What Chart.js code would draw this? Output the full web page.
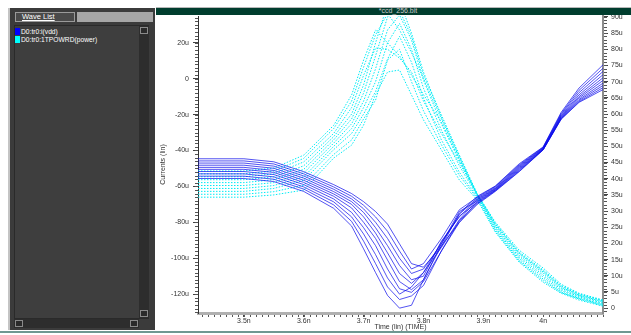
<!DOCTYPE html>
<html>
<head>
<meta charset="utf-8">
<script src="https://cdn.jsdelivr.net/npm/chart.js@4.4.1/dist/chart.umd.min.js"></script>
<style>
  body { margin: 0; width: 631px; height: 335px; overflow: hidden; background: #fff; position: relative; font-family: "Liberation Sans", Arial, sans-serif; }
  .abs { position: absolute; }
  #panel { left: 8px; top: 8px; width: 147px; height: 322px; background: #3b3b3b; border-left: 2px solid #c4c4c4; box-sizing: border-box; }
  #tab { left: 15px; top: 12px; width: 60px; height: 10px; background: #4a4a4a; border: 1px solid #9a9a9a; box-sizing: border-box; color: #fff; font-size: 7.5px; line-height: 8px; padding-left: 6px; text-decoration: underline; }
  #tabfill { left: 77px; top: 12px; width: 76px; height: 10px; background: #a6a6a6; }
  #list { left: 14px; top: 25px; width: 135px; height: 294px; background: #3e3e3e; border: 1px solid #2a2a2a; box-sizing: border-box; }
  .item { left: 15px; color: #fff; font-size: 6.7px; line-height: 8px; white-space: nowrap; }
  .item i { display: inline-block; width: 5px; height: 7px; margin-right: 1px; vertical-align: -1px; }
  #vscroll { left: 139px; top: 26px; width: 10px; height: 292px; background: #2d2d2d; }
  #hscroll { left: 14px; top: 319px; width: 125px; height: 9px; background: #2d2d2d; }
  .btn { width: 8px; height: 7px; background: #2a2a2a; border: 1px solid #8a8a8a; box-sizing: border-box; }
  #titlebar { left: 156px; top: 7px; width: 475px; height: 8px; background: #003d2e; border-top: 1px solid #b8b8b8; box-sizing: border-box; }
  #titlebar span { position: absolute; left: 242px; top: -1px; transform: translateX(-50%); color: #c8c8c8; font-size: 7px; white-space: nowrap; }
  #bottomline { left: 0; top: 331px; width: 631px; height: 2px; background: #6f9892; }
  #plot { left: 156px; top: 15px; width: 475px; height: 317px; }
</style>
</head>
<body>
<div id="panel" class="abs"></div>
<div id="tab" class="abs">Wave List</div>
<div id="tabfill" class="abs"></div>
<div id="list" class="abs"></div>
<div class="abs item" style="top:28px"><i style="background:#0000ff"></i>D0:tr0:i(vdd)</div>
<div class="abs item" style="top:36px"><i style="background:#00ffff"></i>D0:tr0:1TPOWRD(power)</div>
<div id="vscroll" class="abs"></div>
<div class="abs btn" style="left:140px;top:27px"></div>
<div class="abs btn" style="left:140px;top:310px"></div>
<div id="hscroll" class="abs"></div>
<div class="abs btn" style="left:15px;top:320px"></div>
<div class="abs btn" style="left:130px;top:320px"></div>
<div id="titlebar" class="abs"><span>*ccd_256.bit</span></div>
<div id="bottomline" class="abs"></div>
<div id="plot" class="abs"><canvas id="wave-chart"></canvas></div>

<script>
// time points in ns
const timeNs = [3.4233, 3.5, 3.55, 3.6, 3.65, 3.68, 3.7, 3.72, 3.74, 3.76, 3.78, 3.8, 3.83, 3.86, 3.89, 3.92, 3.96, 4.0, 4.03, 4.06, 4.1];

// D0:tr0:i(vdd), current in uA, one row per run
const vddCurrent = [
  [-44.6, -44.6, -46.3, -51.8, -59.0, -64.0, -68.5, -74.0, -81.0, -92.0, -103.0, -105.0, -93.5, -75.0, -65.5, -59.8, -47.4, -38.0, -18.8, -5.2, 7.7],
  [-45.8, -45.8, -47.5, -53.0, -60.3, -65.5, -70.5, -77.0, -85.0, -96.0, -106.0, -103.0, -89.0, -73.0, -66.0, -60.0, -48.0, -38.2, -19.5, -6.5, 5.8],
  [-47.0, -47.0, -48.7, -54.2, -61.6, -67.0, -72.5, -80.0, -89.0, -100.0, -108.5, -106.0, -92.0, -75.5, -66.5, -60.5, -48.5, -38.5, -20.0, -7.8, 4.0],
  [-48.2, -48.2, -49.9, -55.4, -62.9, -68.5, -74.5, -83.0, -93.0, -104.0, -112.0, -110.0, -90.5, -77.0, -67.0, -61.0, -49.0, -38.7, -20.6, -9.0, 2.2],
  [-49.4, -49.4, -51.1, -56.6, -64.2, -70.0, -77.0, -86.0, -97.0, -108.5, -114.0, -108.0, -94.0, -78.5, -67.5, -61.3, -49.5, -39.0, -21.0, -10.0, 0.5],
  [-50.5, -50.5, -52.2, -57.8, -65.5, -72.0, -80.0, -89.0, -101.0, -113.0, -117.5, -112.0, -92.0, -74.0, -68.0, -61.6, -50.0, -39.2, -21.5, -10.8, -1.0],
  [-51.7, -51.7, -53.4, -59.0, -67.0, -74.5, -83.0, -93.0, -106.0, -117.0, -119.0, -113.0, -96.0, -80.0, -68.5, -62.0, -50.5, -39.4, -21.8, -11.6, -2.5],
  [-53.0, -53.0, -54.7, -60.3, -68.6, -77.0, -86.5, -98.0, -111.0, -120.0, -116.0, -108.0, -91.0, -76.5, -69.0, -62.2, -51.0, -39.5, -22.2, -12.2, -3.8],
  [-54.3, -54.3, -56.0, -61.5, -70.3, -79.5, -90.5, -103.0, -116.0, -123.0, -121.0, -115.2, -95.9, -79.0, -69.5, -62.5, -51.5, -39.6, -22.5, -12.8, -5.0],
  [-55.6, -55.6, -57.3, -62.8, -72.2, -82.1, -94.8, -108.0, -120.7, -127.8, -126.2, -112.0, -93.0, -80.0, -70.0, -62.8, -51.8, -39.7, -22.6, -13.2, -6.1],
];

// D0:tr0:1TPOWRD(power), right axis, one row per run
const powerRuns = [
  [42.4, 42.4, 43.3, 47.3, 56.5, 65.9, 76.7, 86.0, 82.0, 78.0, 72.0, 66.0, 57.5, 46.0, 35.0, 26.0, 17.0, 11.5, 6.8, 4.2, 2.2],
  [41.5, 41.5, 42.4, 46.3, 55.5, 64.0, 74.5, 84.5, 91.0, 86.0, 79.0, 71.0, 58.5, 46.5, 35.1, 26.2, 17.3, 11.8, 7.0, 4.4, 2.4],
  [40.6, 40.6, 41.5, 45.2, 54.0, 62.0, 72.0, 80.4, 80.0, 77.3, 73.0, 64.0, 54.0, 45.0, 35.2, 25.8, 16.8, 11.2, 6.5, 4.0, 2.0],
  [39.7, 39.7, 40.6, 44.0, 53.0, 60.0, 69.0, 82.0, 94.0, 92.0, 84.0, 72.0, 59.7, 47.3, 35.3, 26.6, 17.9, 12.4, 7.4, 4.6, 2.5],
  [38.8, 38.8, 39.7, 42.9, 52.0, 58.5, 66.5, 78.0, 90.0, 95.0, 85.0, 73.0, 59.0, 47.0, 35.0, 25.4, 16.3, 10.8, 6.2, 3.8, 1.8],
  [37.9, 37.9, 38.8, 41.8, 51.0, 57.0, 64.0, 74.0, 86.0, 90.6, 82.9, 70.5, 57.0, 45.5, 34.8, 25.0, 15.8, 10.2, 5.8, 3.5, 1.5],
  [37.0, 37.0, 37.9, 40.6, 50.0, 55.5, 62.0, 70.0, 82.0, 88.0, 80.0, 68.0, 55.0, 44.0, 34.6, 24.6, 15.3, 9.6, 5.4, 3.2, 1.2],
  [36.1, 36.1, 37.0, 39.5, 49.0, 54.0, 60.0, 67.0, 77.0, 84.0, 76.0, 65.0, 52.0, 42.0, 34.2, 24.2, 14.8, 9.0, 5.0, 3.0, 1.0],
  [35.2, 35.2, 36.0, 38.0, 47.5, 52.0, 58.5, 64.3, 76.7, 80.0, 70.0, 61.0, 50.5, 41.0, 33.8, 23.8, 14.5, 8.5, 4.8, 2.8, 0.8],
  [34.3, 34.3, 35.0, 36.5, 46.4, 50.4, 56.6, 66.0, 73.0, 73.6, 65.9, 58.2, 48.9, 39.6, 33.4, 23.5, 14.2, 8.0, 4.6, 2.5, 0.6],
];

// axis ticks
const xTickValues = [3.5, 3.6, 3.7, 3.8, 3.9, 4.0];
const xTickLabels = ["3.5n", "3.6n", "3.7n", "3.8n", "3.9n", "4n"];
const yTickValues = [20, 0, -20, -40, -60, -80, -100, -120];
const yTickLabels = ["20u", "0", "-20u", "-40u", "-60u", "-80u", "-100u", "-120u"];
const y2TickValues = [90, 85, 80, 75, 70, 65, 60, 55, 50, 45, 40, 35, 30, 25, 20, 15, 10, 5, 0];
const y2TickLabels = ["90u", "85u", "80u", "75u", "70u", "65u", "60u", "55u", "50u", "45u", "40u", "35u", "30u", "25u", "20u", "15u", "10u", "5u", "0"];

Chart.defaults.font.family = "Liberation Sans";
Chart.defaults.font.size = 7;
Chart.defaults.color = "#333";

// small ticks between the labelled ones
const minorTicks = {
  id: "minorTicks",
  afterDraw(chart) {
    const ctx = chart.ctx;
    ctx.save();
    ctx.strokeStyle = "#555";
    ctx.lineWidth = 1;
    [["x", 0.01], ["y", 2], ["y2", 1]].forEach(([id, step]) => {
      const s = chart.scales[id];
      for (let k = Math.ceil(s.min / step - 1e-6); k * step <= s.max + 1e-6; k++) {
        const p = Math.round(s.getPixelForValue(k * step)) + 0.5;
        ctx.beginPath();
        if (id === "x") { ctx.moveTo(p, s.top + 2); ctx.lineTo(p, s.top + 4); }
        else if (id === "y") { ctx.moveTo(s.right - 3, p); ctx.lineTo(s.right, p); }
        else { ctx.moveTo(s.left + 1, p); ctx.lineTo(s.left + 4, p); }
        ctx.stroke();
      }
    });
    ctx.restore();
  },
};

function fixSize(prop, size) {
  return function (scale) {
    scale[prop] = size;
    scale.paddingTop = 0;
    scale.paddingBottom = 0;
    scale.paddingLeft = 0;
    scale.paddingRight = 0;
  };
}

const datasets = [];
vddCurrent.forEach((run, i) => {
  datasets.push({
    label: "D0:tr0:i(vdd) " + (i + 1),
    data: run.map((v, k) => ({ x: timeNs[k], y: v })),
    yAxisID: "y",
    borderColor: "rgba(10, 10, 235, 0.7)",
    borderWidth: 1,
    pointRadius: 0,
    tension: 0,
    order: 1,
  });
});
powerRuns.forEach((run, i) => {
  datasets.push({
    label: "D0:tr0:1TPOWRD(power) " + (i + 1),
    data: run.map((v, k) => ({ x: timeNs[k], y: v })),
    yAxisID: "y2",
    borderColor: "rgb(0, 235, 245)",
    borderWidth: 1,
    borderDash: [1.5, 1.5],
    pointRadius: 0,
    tension: 0,
    order: 2,
  });
});

const ctx = document.getElementById("wave-chart").getContext("2d");
new Chart(ctx, {
  type: "line",
  data: { datasets: datasets },
  plugins: [minorTicks],
  options: {
    responsive: true,
    maintainAspectRatio: false,
    animation: false,
    layout: { autoPadding: false, padding: { top: 1, left: 0, right: 0, bottom: 0 } },
    plugins: { legend: { display: false }, tooltip: { enabled: false } },
    scales: {
      x: {
        type: "linear",
        position: "bottom",
        min: 3.4233,
        max: 4.1,
        afterBuildTicks: (s) => { s.ticks = xTickValues.map((v) => ({ value: v })); },
        afterFit: fixSize("height", 19),
        grid: { drawOnChartArea: false, drawTicks: true, tickLength: 4, tickColor: "#444" },
        border: { display: true, color: "#b0b0b0", width: 3 },
        ticks: {
          autoSkip: false, maxRotation: 0, padding: 1, color: "#333",
          font: { size: 7, lineHeight: 1 },
          callback: (v) => xTickLabels[xTickValues.indexOf(v)],
        },
        title: { display: true, text: "Time (lin) (TIME)", font: { size: 7, lineHeight: 1 }, padding: { top: 0, bottom: 1 }, color: "#333" },
      },
      y: {
        type: "linear",
        position: "left",
        min: -130.5,
        max: 34.9,
        afterBuildTicks: (s) => { s.ticks = yTickValues.map((v) => ({ value: v })); },
        afterFit: fixSize("width", 42),
        grid: { drawOnChartArea: false, drawTicks: true, tickLength: 5, tickColor: "#444" },
        border: { display: true, color: "#333", width: 1 },
        ticks: { padding: 4, color: "#333", callback: (v) => yTickLabels[yTickValues.indexOf(v)] },
        title: { display: true, text: "Currents (lin)", padding: { top: 3, bottom: 0 }, color: "#333" },
      },
      y2: {
        type: "linear",
        position: "right",
        min: -1.5,
        max: 90.3,
        afterBuildTicks: (s) => { s.ticks = y2TickValues.map((v) => ({ value: v })); },
        afterFit: fixSize("width", 28),
        grid: { drawOnChartArea: false, drawTicks: true, tickLength: 5, tickColor: "#444" },
        border: { display: true, color: "#8c8c8c", width: 2 },
        ticks: { padding: 3, color: "#333", callback: (v) => y2TickLabels[y2TickValues.indexOf(v)] },
      },
    },
  },
});
</script>
</body>
</html>
